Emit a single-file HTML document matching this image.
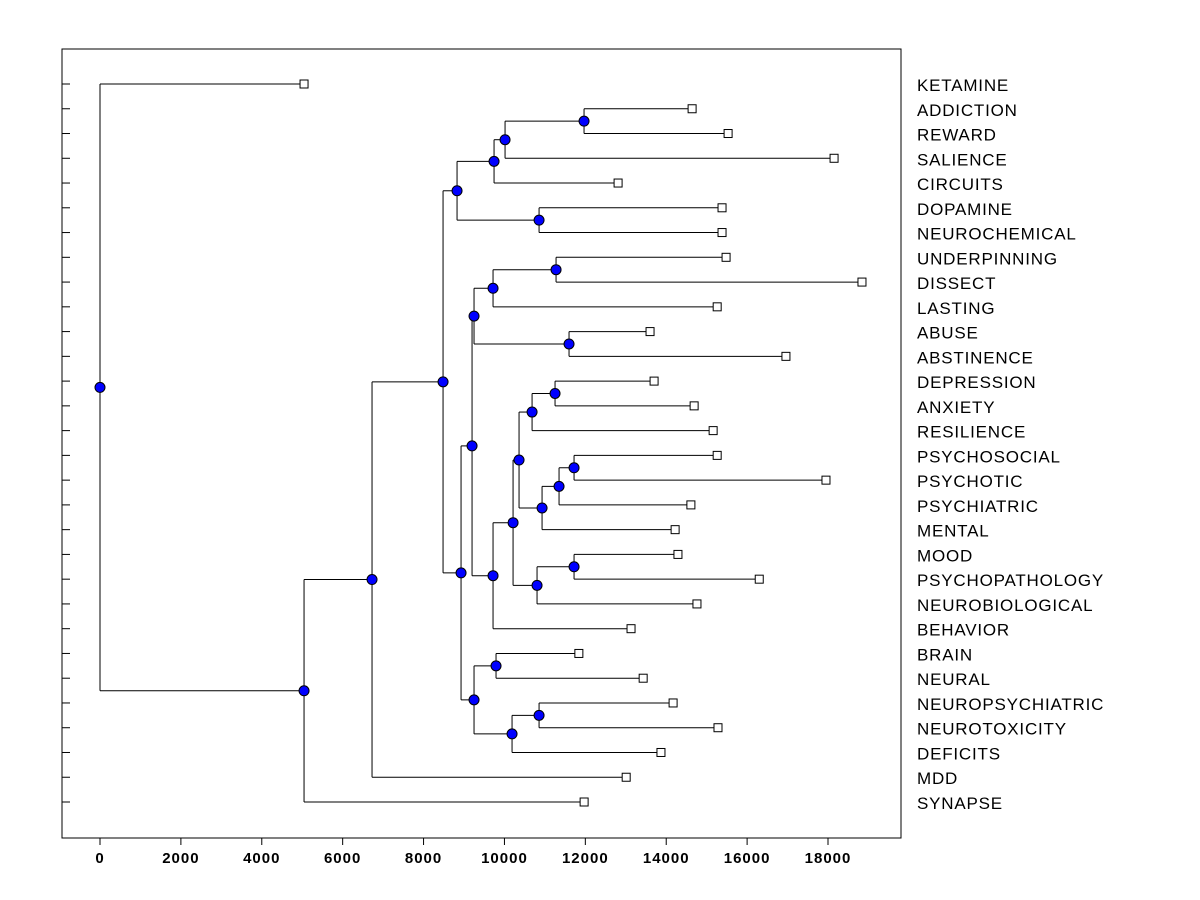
<!DOCTYPE html>
<html><head><meta charset="utf-8"><style>
html,body{margin:0;padding:0;background:#fff;width:1200px;height:900px;overflow:hidden}
svg{display:block;font-family:"Liberation Sans",Arial,sans-serif}
</style></head><body>
<svg id="chart" width="1200" height="900" xmlns="http://www.w3.org/2000/svg">
<rect x="62" y="49" width="839" height="789" fill="#fff" stroke="#000" stroke-width="1"/>
<g id="links"></g>
<g id="marks"></g>
<g id="labels"></g>
<g id="axis"></g>
</svg>
<script>
const leafNames = ["KETAMINE","ADDICTION","REWARD","SALIENCE","CIRCUITS","DOPAMINE","NEUROCHEMICAL","UNDERPINNING","DISSECT","LASTING","ABUSE","ABSTINENCE","DEPRESSION","ANXIETY","RESILIENCE","PSYCHOSOCIAL","PSYCHOTIC","PSYCHIATRIC","MENTAL","MOOD","PSYCHOPATHOLOGY","NEUROBIOLOGICAL","BEHAVIOR","BRAIN","NEURAL","NEUROPSYCHIATRIC","NEUROTOXICITY","DEFICITS","MDD","SYNAPSE"];
const leafValues = [5045,14640,15530,18150,12810,15380,15380,15480,18840,15260,13600,16960,13700,14690,15160,15260,17950,14610,14220,14290,16300,14760,13130,11840,13430,14170,15280,13870,13010,11970];
const nodeNames = ["root","A","B","C","D","F","H","I","G","E","J","L","N","P","O","M","Q","R","T","V","U","W","X","S","Y","K","Z","AA","AB"];
const nodeHeights = [0,5045,6726,8482,8828,9743,10015,11968,10856,8927,9199,9248,9718,11276,11597,9718,10213,10361,10683,11251,10930,11350,11721,10806,11721,9248,9792,10188,10856];
const nodeChildren = [["L0","NA"],["NB","L29"],["NC","L28"],["ND","NE"],["NF","NG"],["NH","L4"],["NI","L3"],["L1","L2"],["L5","L6"],["NJ","NK"],["NL","NM"],["NN","NO"],["NP","L9"],["L7","L8"],["L10","L11"],["NQ","L22"],["NR","NS"],["NT","NU"],["NV","L14"],["L12","L13"],["NW","L18"],["NX","L17"],["L15","L16"],["NY","L21"],["L19","L20"],["NZ","NAA"],["L23","L24"],["NAB","L27"],["L25","L26"]];
const xTicks = [0,2000,4000,6000,8000,10000,12000,14000,16000,18000];

const NS="http://www.w3.org/2000/svg";
const xs = v => 100 + v*(728/18000);
const ys = i => 84 + i*(718/29);
function mk(tag, attrs, parent){const e=document.createElementNS(NS,tag);for(const k in attrs)e.setAttribute(k,attrs[k]);parent.appendChild(e);return e;}
const links=document.getElementById('links'), marks=document.getElementById('marks'), labels=document.getElementById('labels'), axis=document.getElementById('axis');

function pos(ref){
  if(ref[0]==='L'){const i=+ref.slice(1);return {x:xs(leafValues[i]),y:ys(i)};}
  const k=nodeNames.indexOf(ref.slice(1));
  const c=nodeChildren[k].map(pos);
  return {x:xs(nodeHeights[k]),y:(c[0].y+c[1].y)/2,c:c,k:k};
}
function draw(ref){
  const p=pos(ref);
  if(p.c){
    nodeChildren[p.k].forEach(draw);
    const v=mk('line',{x1:p.x,y1:p.c[0].y,x2:p.x,y2:p.c[1].y,stroke:'#000','stroke-width':1},links);
    
    
    p.c.forEach(c=>{
      const h=mk('line',{x1:p.x,y1:c.y,x2:c.x,y2:c.y,stroke:'#000','stroke-width':1},links);
      
      
    });
  }
  return p;
}
function drawMarks(ref){
  const p=pos(ref);
  if(p.c){
    nodeChildren[p.k].forEach(drawMarks);
    const d=mk('circle',{cx:p.x,cy:p.y,r:5,fill:'#0000ff',stroke:'#000','stroke-width':1},marks);
    
    
  }
}
draw("Nroot");
drawMarks("Nroot");
leafNames.forEach((n,i)=>{
  const x=xs(leafValues[i]), y=ys(i);
  const s=mk('rect',{x:x-4,y:y-4,width:8,height:8,fill:'#fff',stroke:'#000','stroke-width':1},marks);
  
  
  const t=mk('text',{x:917,y:y+7,'font-size':17,'letter-spacing':0.8,fill:'#000'},labels);
  t.textContent=n;
  
  
  const tk=mk('line',{x1:62,y1:y,x2:70,y2:y,stroke:'#000','stroke-width':1},axis);
  
  
});
xTicks.forEach(v=>{
  const x=xs(v);
  const tk=mk('line',{x1:x,y1:838,x2:x,y2:845,stroke:'#000','stroke-width':1},axis);
  
  
  const t=mk('text',{x:x,y:863,'font-size':15,'font-weight':'bold','letter-spacing':1,'text-anchor':'middle',fill:'#000'},axis);
  t.textContent=String(v);
  
  
});
</script>
</body></html>
